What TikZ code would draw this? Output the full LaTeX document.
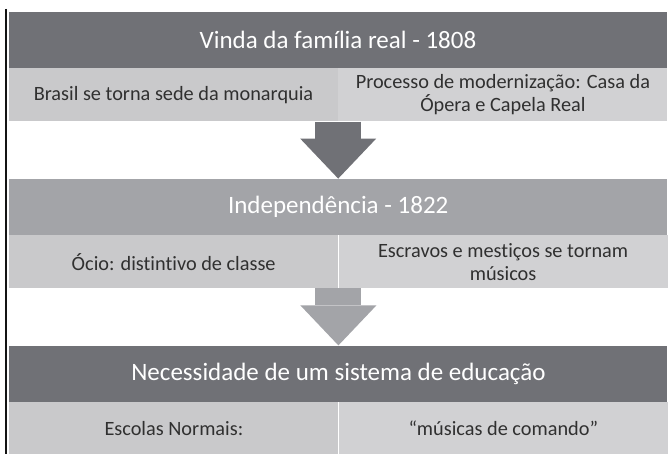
\documentclass[tikz,border=0pt]{standalone}
\usepackage{fontspec}
\setmainfont{Carlito}[RawFeature=-liga]
\usetikzlibrary{arrows.meta,positioning}
\definecolor{barescura}{HTML}{707176}
\definecolor{barmedia}{HTML}{A3A4A8}
\definecolor{celesq}{HTML}{C9C9CB}
\definecolor{celdir}{HTML}{D1D1D3}
\definecolor{textocel}{HTML}{303030}
\tikzset{
    %Define style for title bars
    barra/.style={
        rectangle,
        inner sep=0pt,
        minimum width=658pt,
        minimum height=56pt,
        text=white,
        font=\fontsize{25}{30}\selectfont},
    %Define style for the cells below the bars
    celula/.style={
        rectangle,
        inner sep=0pt,
        minimum width=329pt,
        minimum height=53pt,
        align=center,
        text=textocel,
        font=\fontsize{20.3}{23}\selectfont},
    % Define block arrow style
    seta/.style={
        line width=46pt,
        -{Triangle[width=76pt,length=40pt,line width=0pt]}}
}
\begin{document}
\begin{tikzpicture}[x=1pt,y=-1pt]
    \useasboundingbox[fill=white] (0,0) rectangle (669,454);
    % frame line on the left
    \draw[line width=2.8pt, black!92] (6,9) -- (6,454);
    %nodes
    \node[barra, fill=barescura] (vinda) at (338,40) {Vinda da família real - 1808};
    \node[celula, fill=celesq, below right=0pt of vinda.south west] (brasil) {Brasil se torna sede da monarquia};
    \node[celula, fill=celdir, right=0pt of brasil] (processo) {Processo de modernização: Casa da\\Ópera e Capela Real};
    \node[barra, fill=barmedia, below=57pt of brasil.south east] (indep) {Independência - 1822};
    \node[celula, fill=celesq, below right=0pt of indep.south west] (ocio) {Ócio: distintivo de classe};
    \node[celula, fill=celdir, right=0pt of ocio] (escravos) {Escravos e mestiços se tornam\\músicos};
    \node[barra, fill=barescura, below=57pt of ocio.south east] (educ) {Necessidade de um sistema de educação};
    \node[celula, fill=celesq, below right=0pt of educ.south west] (escolas) {Escolas Normais:};
    \node[celula, fill=celdir, right=0pt of escolas] (comando) {“músicas de comando”};
    % arrows between the blocks
    \draw[seta, barescura] (brasil.south east) -- (indep.north);
    \draw[seta, barmedia] (ocio.south east) -- (educ.north);
\end{tikzpicture}
\end{document}
